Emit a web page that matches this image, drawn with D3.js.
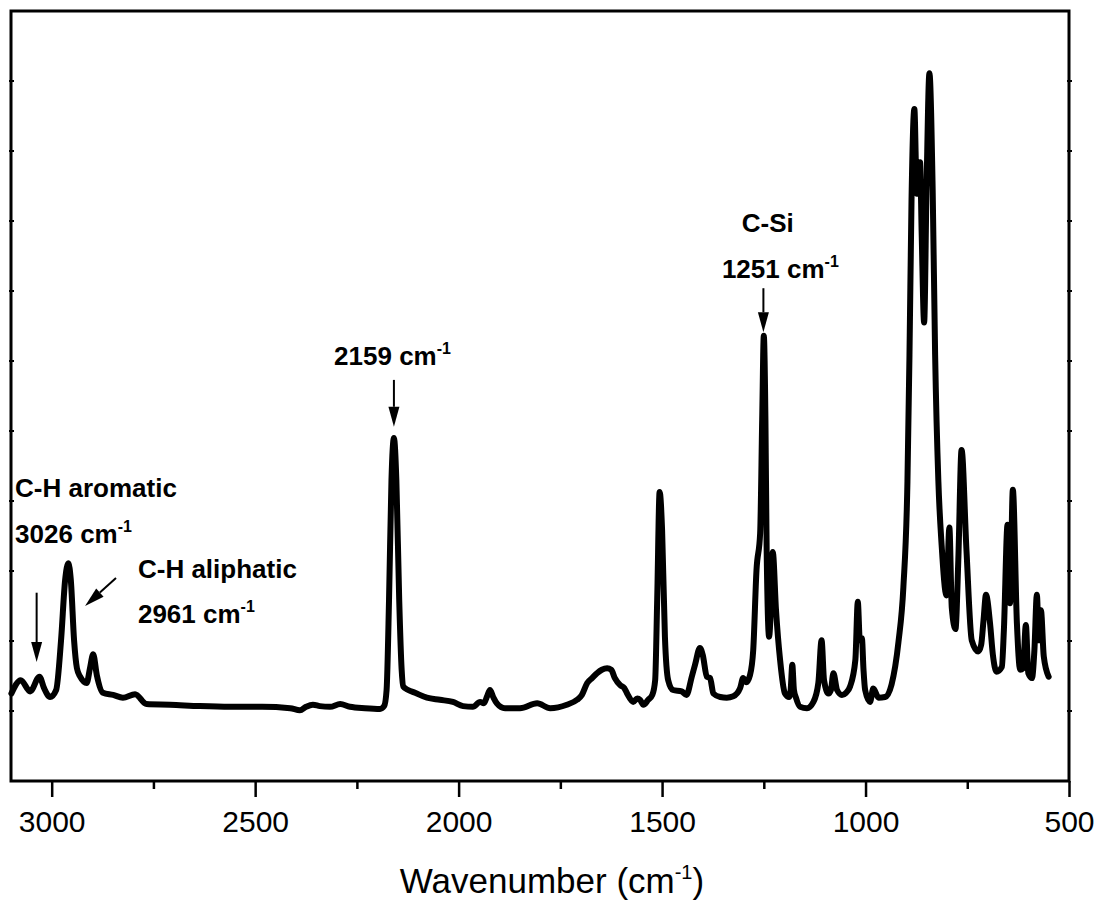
<!DOCTYPE html>
<html>
<head>
<meta charset="utf-8">
<script src="https://cdn.jsdelivr.net/npm/d3@7"></script>
<style>
  body { margin: 0; background: #fff; }
  text { font-family: Arial, "Liberation Sans", sans-serif; fill: #000; }
</style>
</head>
<body>
<div id="chart"></div>
<script>
// FTIR spectrum (wavenumber in cm-1, absorbance in arbitrary units)
var wavenumber = [3099,3076,3053,3030,3019,3004,2989,2977,2967,2959,
  2953,2945,2938,2930,2914,2906,2898,2889,2874,2849,
  2825,2795,2767,2709,2636,2562,2483,2414,2390,2375,
  2358,2341,2316,2291,2267,2230,2193,2183,2177,2171,
  2165,2159,2153,2146,2140,2136,2124,2107,2078,2046,
  2014,1989,1965,1947,1938,1930,1923,1915,1906,1886,
  1849,1807,1775,1734,1709,1697,1684,1672,1660,1648,
  1635,1625,1616,1603,1593,1586,1571,1561,1554,1546,
  1534,1524,1517,1512,1506,1500,1493,1485,1473,1452,
  1440,1427,1419,1407,1400,1390,1382,1374,1357,1341,
  1325,1308,1301,1293,1284,1276,1268,1259,1254,1250,
  1246,1243,1237,1232,1228,1220,1210,1198,1188,1184,
  1180,1176,1171,1161,1144,1128,1116,1108,1102,1091,
  1085,1079,1070,1058,1048,1038,1025,1019,1014,1009,
  1005,1001,989,981,968,952,936,919,907,897,
  892,887,880,874,866,862,856,850,843,835,
  829,821,813,801,794,788,779,772,764,752,
  739,723,716,710,704,694,687,678,665,660,
  651,645,638,628,620,613,606,600,591,585,
  579,574,569,562,550];

var absorbance = [1.25,1.44,1.28,1.49,1.33,1.20,1.30,2.01,2.87,3.11,
  2.87,2.01,1.61,1.49,1.40,1.61,1.81,1.51,1.26,1.23,
  1.19,1.24,1.10,1.09,1.07,1.06,1.06,1.04,1.01,1.06,
  1.09,1.07,1.06,1.10,1.06,1.04,1.03,1.07,1.30,2.59,
  4.30,4.90,4.30,2.59,1.59,1.35,1.30,1.26,1.19,1.16,
  1.13,1.07,1.06,1.13,1.11,1.21,1.30,1.20,1.11,1.04,
  1.04,1.11,1.04,1.09,1.16,1.23,1.40,1.47,1.54,1.59,
  1.61,1.59,1.47,1.37,1.33,1.25,1.13,1.18,1.16,1.09,
  1.16,1.23,1.44,2.59,4.13,3.59,2.06,1.44,1.30,1.28,
  1.23,1.49,1.66,1.90,1.80,1.49,1.47,1.25,1.20,1.19,
  1.21,1.33,1.47,1.41,1.51,1.87,3.01,3.54,5.16,6.36,
  5.16,3.30,2.06,2.59,3.27,2.44,1.73,1.25,1.20,1.30,
  1.66,1.30,1.19,1.06,1.04,1.13,1.40,2.01,1.44,1.25,
  1.30,1.54,1.30,1.23,1.26,1.35,1.73,2.56,2.01,2.04,
  1.59,1.30,1.13,1.32,1.19,1.20,1.38,1.99,2.77,4.28,
  6.09,8.30,9.60,8.39,8.84,7.81,6.55,8.51,10.11,8.44,
  6.09,4.28,3.37,2.65,3.62,2.47,2.17,3.16,4.73,3.30,
  2.01,1.85,1.94,2.30,2.66,2.25,1.80,1.56,1.63,2.16,
  3.66,2.54,4.16,2.25,1.59,1.61,2.23,1.54,1.47,1.87,
  2.66,2.01,2.44,1.78,1.49];

var xTicks = [3000, 2500, 2000, 1500, 1000, 500];
var xMinorTicks = [2750, 2250, 1750, 1250, 750];
var yTicks = [1, 2, 3, 4, 5, 6, 7, 8, 9, 10];

// annotation labels: [text, superscript, wavenumber, absorbance]
var labels = [
  ["C-H aromatic", "", 3090, 4.06],
  ["3026 cm", "-1", 3090, 3.40],
  ["C-H aliphatic", "", 2788, 2.90],
  ["2961 cm", "-1", 2788, 2.26],
  ["2159 cm", "-1", 2306, 5.94],
  ["C-Si", "", 1304, 7.85],
  ["1251 cm", "-1", 1353, 7.18]
];
// arrows: [from wn, from abs, to wn, to abs]
var arrows = [
  [3037, 2.69, 3037, 1.70],
  [2842, 2.90, 2918, 2.50],
  [2159, 5.73, 2159, 5.06],
  [1251, 7.04, 1251, 6.41]
];

var W = 1099, H = 907,
    margin = {top: 11, right: 30, bottom: 126, left: 11},
    width = W - margin.left - margin.right,
    height = H - margin.top - margin.bottom;

var svg = d3.select("#chart").append("svg")
    .attr("width", W)
    .attr("height", H);

var g = svg.append("g")
    .attr("transform", "translate(" + margin.left + "," + margin.top + ")");

var x = d3.scaleLinear().domain([3100, 500]).range([0, width]),
    y = d3.scaleLinear().domain([0, 11]).range([height, 0]);

var data = wavenumber.map(function(w, i) { return {w: w, a: absorbance[i]}; });

// bottom axis, major + minor ticks
var xAxis = d3.axisBottom(x).tickValues(xTicks).tickSize(16).tickPadding(14)
    .tickFormat(d3.format("d"));
var gx = g.append("g")
    .attr("transform", "translate(0," + height + ")")
    .call(xAxis);
gx.select(".domain").remove();
gx.selectAll(".tick line").attr("stroke", "#000").attr("stroke-width", 2.5);
gx.selectAll(".tick text").style("font-size", "30px");

var gxm = g.append("g")
    .attr("transform", "translate(0," + height + ")")
    .call(d3.axisBottom(x).tickValues(xMinorTicks).tickSize(8).tickFormat(""));
gxm.select(".domain").remove();
gxm.selectAll(".tick line").attr("stroke", "#000").attr("stroke-width", 2.5);

// tiny y ticks on both sides, no labels
g.selectAll(".ytl").data(yTicks).enter().append("line")
    .attr("x1", -2).attr("x2", 3)
    .attr("y1", function(d) { return y(d); })
    .attr("y2", function(d) { return y(d); })
    .attr("stroke", "#000").attr("stroke-width", 2);
g.selectAll(".ytr").data(yTicks).enter().append("line")
    .attr("x1", width - 2).attr("x2", width + 3)
    .attr("y1", function(d) { return y(d); })
    .attr("y2", function(d) { return y(d); })
    .attr("stroke", "#000").attr("stroke-width", 2);

// frame
g.append("rect")
    .attr("width", width).attr("height", height)
    .attr("fill", "none").attr("stroke", "#000").attr("stroke-width", 3);

// spectrum
var line = d3.line()
    .x(function(d) { return x(d.w); })
    .y(function(d) { return y(d.a); })
    .curve(d3.curveMonotoneX);

g.append("path")
    .datum(data)
    .attr("d", line)
    .attr("fill", "none")
    .attr("stroke", "#000")
    .attr("stroke-width", 6)
    .attr("stroke-linejoin", "round")
    .attr("stroke-linecap", "round");

// annotation text
labels.forEach(function(l) {
  var t = g.append("text")
      .attr("x", x(l[2]))
      .attr("y", y(l[3]))
      .style("font-size", "26px")
      .style("font-weight", "bold");
  t.append("tspan").text(l[0]);
  if (l[1]) {
    t.append("tspan").attr("dy", -11).style("font-size", "16px").text(l[1]);
  }
});

// arrows
arrows.forEach(function(a) {
  var x1 = x(a[0]), y1 = y(a[1]), x2 = x(a[2]), y2 = y(a[3]);
  var ang = Math.atan2(y2 - y1, x2 - x1), hl = 20, hw = 5.5;
  var bx = x2 - hl * Math.cos(ang), by = y2 - hl * Math.sin(ang);
  g.append("line")
      .attr("x1", x1).attr("y1", y1).attr("x2", bx).attr("y2", by)
      .attr("stroke", "#000").attr("stroke-width", 2);
  var px = -Math.sin(ang) * hw, py = Math.cos(ang) * hw;
  g.append("path")
      .attr("d", "M" + x2 + "," + y2 + "L" + (bx + px) + "," + (by + py) + "L" + (bx - px) + "," + (by - py) + "Z")
      .attr("fill", "#000");
});

// x axis title
var title = svg.append("text")
    .attr("x", margin.left + width / 2 + 12)
    .attr("y", 893)
    .attr("text-anchor", "middle")
    .style("font-size", "35px");
title.append("tspan").text("Wavenumber (cm");
title.append("tspan").attr("dy", -14).style("font-size", "20px").text("-1");
title.append("tspan").attr("dy", 14).text(")");
</script>
</body>
</html>
